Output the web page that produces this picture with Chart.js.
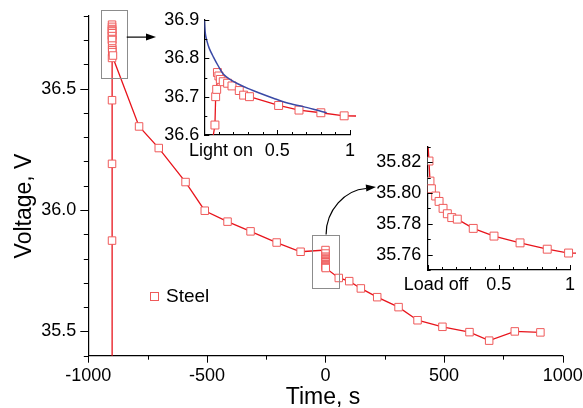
<!DOCTYPE html>
<html>
<head>
<meta charset="utf-8">
<script src="https://cdn.jsdelivr.net/npm/chart.js@4.4.1/dist/chart.umd.min.js"></script>
<style>
  body { margin: 0; background: #fff; }
  #wrap { position: relative; width: 583px; height: 408px; }
  canvas { position: absolute; }
</style>
</head>
<body>
<div id="wrap">
  <canvas id="main" width="583" height="408" style="left:0;top:0"></canvas>
  <canvas id="inset1" width="210" height="165" style="left:150px;top:0"></canvas>
  <canvas id="inset2" width="213" height="170" style="left:370px;top:130px"></canvas>
</div>
<script>
// light switched on at -900 s, load switched off at 0 s
const lightOnAt = -900;
const loadOffAt = 0;

// vertical rise at light on
const riseVolt = [35.2, 35.874, 36.19, 36.452];

// first seconds after light on (inset 1), s from light on
const lightOnTime = [0.073, 0.078, 0.085, 0.09, 0.10, 0.11, 0.13, 0.16, 0.19, 0.24, 0.27, 0.31, 0.51, 0.65, 0.80, 0.96, 4];
const lightOnVolt = [36.626, 36.700, 36.719, 36.763, 36.754, 36.745, 36.739, 36.735, 36.728, 36.716, 36.704, 36.700, 36.677, 36.665, 36.658, 36.650, 36.636];

// fitted curve in inset 1
const fitTime = [0, 0.007, 0.016, 0.034, 0.062, 0.096, 0.13, 0.176, 0.233, 0.302, 0.382, 0.474, 0.565, 0.68, 0.771, 0.84];
const fitVolt = [36.90, 36.865, 36.848, 36.826, 36.804, 36.780, 36.759, 36.745, 36.733, 36.721, 36.709, 36.696, 36.684, 36.674, 36.665, 36.658];

// between light on and load off
const midTime = [-786, -703, -590, -509, -413, -316, -206, -105];
const midVolt = [36.344, 36.255, 36.115, 35.997, 35.952, 35.912, 35.866, 35.828];

// first second after load off (inset 2), s from load off
const loadOffTime = [0, 0.009, 0.016, 0.026, 0.056, 0.08, 0.108, 0.138, 0.169, 0.208, 0.32, 0.466, 0.649, 0.84, 0.99];
const loadOffVolt = [35.835, 35.8207, 35.8077, 35.8027, 35.798, 35.7945, 35.790, 35.7865, 35.784, 35.783, 35.777, 35.772, 35.7676, 35.7635, 35.761];

// after load off
const lateTime = [56, 100, 149, 218, 308, 388, 493, 607, 690, 798, 906];
const lateVolt = [35.720, 35.707, 35.677, 35.641, 35.600, 35.546, 35.519, 35.497, 35.462, 35.500, 35.496];

// labelled ticks
const xLabelsMain = [-1000, -500, 0, 500, 1000];
const yLabelsMain = [35.5, 36.0, 36.5];
const xLabelsInset = [0.5, 1];
const yLabelsInset1 = [36.6, 36.7, 36.8, 36.9];
const yLabelsInset2 = [35.76, 35.78, 35.80, 35.82];

const RED = '#e8141c';
const MARK = '#ef5a5a';
const BLUE = '#3a4aa6';

Chart.defaults.font.family = '"Liberation Sans", Arial, sans-serif';
Chart.defaults.font.size = 18;
Chart.defaults.color = '#000';
Chart.defaults.animation = false;

const has = (list, v) => list.some(t => Math.abs(t - v) < 1e-6);

// whole steel trace in seconds
const steel = [];
riseVolt.forEach(v => steel.push({x: lightOnAt, y: v}));
lightOnTime.forEach((t, i) => steel.push({x: lightOnAt + t, y: lightOnVolt[i]}));
midTime.forEach((t, i) => steel.push({x: t, y: midVolt[i]}));
loadOffTime.forEach((t, i) => steel.push({x: loadOffAt + t, y: loadOffVolt[i]}));
lateTime.forEach((t, i) => steel.push({x: t, y: lateVolt[i]}));

function steelSet(data, r) {
  return {
    data: data, borderColor: RED, borderWidth: 1.3,
    pointStyle: 'rect', pointRadius: r, pointBorderColor: MARK,
    pointBackgroundColor: '#fff', pointBorderWidth: 1,
    clip: {left: 0, top: 0, right: 6, bottom: 0}
  };
}

// tick marks with two lengths (dir 1 = outside, -1 = inside)
function tickMarks(cfg) {
  return {
    id: 'tickMarks',
    afterDraw(chart) {
      const {ctx, chartArea: a} = chart;
      const sx = chart.scales.x, sy = chart.scales.y;
      ctx.save();
      ctx.strokeStyle = '#000';
      ctx.lineWidth = 1;
      ctx.beginPath();
      sx.ticks.forEach(t => {
        const len = cfg.majorX(t.value) ? cfg.xMajor : cfg.xMinor;
        const px = Math.round(sx.getPixelForValue(t.value)) + 0.5;
        ctx.moveTo(px, a.bottom);
        ctx.lineTo(px, a.bottom + cfg.dir * len);
      });
      sy.ticks.forEach(t => {
        const len = cfg.majorY(t.value) ? cfg.yMajor : cfg.yMinor;
        const py = Math.round(sy.getPixelForValue(t.value)) + 0.5;
        ctx.moveTo(a.left, py);
        ctx.lineTo(a.left - cfg.dir * len, py);
      });
      ctx.stroke();
      ctx.restore();
    }
  };
}

function arrowHead(ctx, x, y, ang) {
  ctx.save();
  ctx.translate(x, y);
  ctx.rotate(ang);
  ctx.beginPath();
  ctx.moveTo(0, 0);
  ctx.lineTo(-10, -3.5);
  ctx.lineTo(-10, 3.5);
  ctx.closePath();
  ctx.fill();
  ctx.restore();
}

const mainDecor = {
  id: 'mainDecor',
  afterDraw(chart) {
    const {ctx} = chart;
    const sx = chart.scales.x, sy = chart.scales.y;
    const box = (t0, t1, v0, v1) => {
      const x0 = sx.getPixelForValue(t0), x1 = sx.getPixelForValue(t1);
      const y0 = sy.getPixelForValue(v1), y1 = sy.getPixelForValue(v0);
      ctx.strokeRect(Math.round(x0) + 0.5, Math.round(y0) + 0.5, Math.round(x1 - x0), Math.round(y1 - y0));
      return {x0, x1, y0, y1};
    };
    ctx.save();
    ctx.strokeStyle = '#8c8c8c';
    ctx.lineWidth = 1;
    const b1 = box(-948, -838, 36.542, 36.823);
    const b2 = box(-55, 60, 35.679, 35.899);

    ctx.strokeStyle = '#000';
    ctx.fillStyle = '#000';
    ctx.lineWidth = 1.2;
    // arrow to inset 1
    const ay = b1.y0 + 27;
    ctx.beginPath();
    ctx.moveTo(b1.x1, ay);
    ctx.lineTo(148, ay);
    ctx.stroke();
    arrowHead(ctx, 156, ay, 0);
    // curved arrow to inset 2
    const cx = (b2.x0 + b2.x1) / 2;
    ctx.beginPath();
    ctx.moveTo(cx, b2.y0);
    ctx.bezierCurveTo(cx, 210, 345, 190, 366, 188.5);
    ctx.stroke();
    arrowHead(ctx, 376, 187, Math.atan2(-3, 30));

    // legend
    ctx.strokeStyle = MARK;
    ctx.fillStyle = '#fff';
    ctx.lineWidth = 1;
    ctx.fillRect(150.5, 292.5, 8, 8);
    ctx.strokeRect(150.5, 292.5, 8, 8);
    ctx.fillStyle = '#000';
    ctx.font = '19px "Liberation Sans", Arial, sans-serif';
    ctx.textBaseline = 'middle';
    ctx.textAlign = 'left';
    ctx.fillText('Steel', 166, 296.5);

    // axis titles
    ctx.font = '23px "Liberation Sans", Arial, sans-serif';
    ctx.textAlign = 'center';
    ctx.textBaseline = 'alphabetic';
    ctx.fillText('Time, s', 323, 404);
    ctx.translate(31, 206);
    ctx.rotate(-Math.PI / 2);
    ctx.fillText('Voltage, V', 0, 0);
    ctx.restore();
  }
};

function label(text, x, y) {
  return {
    id: 'label',
    afterDraw(chart) {
      const {ctx} = chart;
      ctx.save();
      ctx.font = '18px "Liberation Sans", Arial, sans-serif';
      ctx.fillStyle = '#000';
      ctx.textAlign = 'center';
      ctx.textBaseline = 'middle';
      ctx.fillText(text, x, y);
      ctx.restore();
    }
  };
}

function fixX(h) {
  return s => { s.height = h; s.paddingLeft = 0; s.paddingRight = 0; };
}
function fixY(w) {
  return s => { s.width = w; s.paddingTop = 0; s.paddingBottom = 0; };
}

const axisBorder = {color: '#000', width: 1.2};

// main chart
new Chart(document.getElementById('main'), {
  type: 'line',
  data: {datasets: [steelSet(steel, 5.3)]},
  options: {
    responsive: false,
    layout: {padding: {top: 15.7, right: 20.3, left: 0, bottom: 0}},
    plugins: {legend: {display: false}, tooltip: {enabled: false}},
    scales: {
      x: {
        type: 'linear', min: -1000, max: 1000,
        grid: {display: false, drawTicks: false},
        border: axisBorder,
        ticks: {stepSize: 250, autoSkip: false, maxRotation: 0, padding: 9.5,
          callback: v => has(xLabelsMain, v) ? String(v) : ''},
        afterFit: fixX(52.3)
      },
      y: {
        min: 35.4, max: 36.8,
        grid: {display: false, drawTicks: false},
        border: axisBorder,
        ticks: {stepSize: 0.1, autoSkip: false, padding: 12,
          callback: v => has(yLabelsMain, v) ? v.toFixed(1) : ''},
        afterFit: fixY(88.3)
      }
    }
  },
  plugins: [tickMarks({dir: 1, xMajor: 7, xMinor: 4, yMajor: 8, yMinor: 4.5,
    majorX: v => has(xLabelsMain, v), majorY: v => has(yLabelsMain, v)}), mainDecor]
});

function insetOptions(o) {
  return {
    responsive: false,
    layout: {padding: {top: o.top, right: o.right, left: 0, bottom: 0}},
    plugins: {legend: {display: false}, tooltip: {enabled: false}},
    scales: {
      x: {
        type: 'linear', min: 0, max: 1,
        grid: {display: false, drawTicks: false},
        border: axisBorder,
        ticks: {stepSize: 0.1, autoSkip: false, maxRotation: 0, padding: o.xPad,
          callback: v => has(xLabelsInset, v) ? String(v) : ''},
        afterFit: fixX(30)
      },
      y: {
        min: o.min, max: o.max,
        grid: {display: false, drawTicks: false},
        border: axisBorder,
        ticks: {stepSize: o.step, autoSkip: false, padding: o.yPad,
          callback: v => has(o.labels, v) ? v.toFixed(o.digits) : ''},
        afterFit: fixY(o.yWidth)
      }
    }
  };
}

// inset 1: light on
new Chart(document.getElementById('inset1'), {
  type: 'line',
  data: {datasets: [
    {data: fitTime.map((t, i) => ({x: t, y: fitVolt[i]})), borderColor: BLUE, borderWidth: 1.5,
      pointRadius: 0, tension: 0.3, clip: 0},
    steelSet(steel.map(p => ({x: p.x - lightOnAt, y: p.y})), 5.6)
  ]},
  options: insetOptions({top: 20, right: 10, xPad: 5, yPad: 5, yWidth: 54.3,
    min: 36.6, max: 36.9, step: 0.05, labels: yLabelsInset1, digits: 1}),
  plugins: [tickMarks({dir: -1, xMajor: 5, xMinor: 3, yMajor: 5, yMinor: 3,
    majorX: v => has([0, 0.5, 1], v), majorY: v => has(yLabelsInset1, v)}),
    label('Light on', 71, 151)]
});

// inset 2: load off
new Chart(document.getElementById('inset2'), {
  type: 'line',
  data: {datasets: [steelSet(steel.map(p => ({x: p.x - loadOffAt, y: p.y})), 5.6)]},
  options: insetOptions({top: 16.7, right: 13, xPad: 4.7, yPad: 6.5, yWidth: 57.7,
    min: 35.75, max: 35.83, step: 0.01, labels: yLabelsInset2, digits: 2}),
  plugins: [tickMarks({dir: -1, xMajor: 5, xMinor: 3, yMajor: 5, yMinor: 3,
    majorX: v => has([0, 0.5, 1], v), majorY: v => has(yLabelsInset2, v)}),
    label('Load off', 66, 155.5)]
});
</script>
</body>
</html>
